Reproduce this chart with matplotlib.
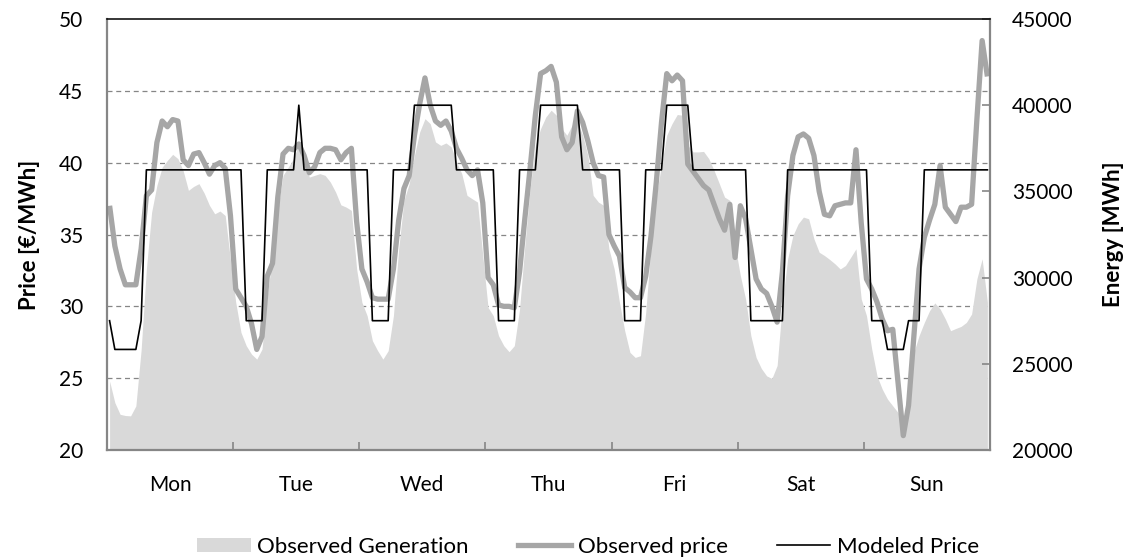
#!/usr/bin/env python3
"""Weekly observed generation, observed price and modeled price."""

import matplotlib
matplotlib.use("Agg")
import matplotlib.pyplot as plt
import numpy as np
from matplotlib.lines import Line2D
from matplotlib.patches import Patch

plt.rcParams["font.family"] = ["Lato", "DejaVu Sans"]

DAYS = ["Mon", "Tue", "Wed", "Thu", "Fri", "Sat", "Sun"]

# Observed price (EUR/MWh), hourly, one row per day
PRICE_OBS = [
    37.0, 34.2, 32.6, 31.5, 31.5, 31.5, 34.0, 37.7, 38.1, 41.4, 42.9, 42.5,
    43.0, 42.9, 40.2, 39.8, 40.6, 40.7, 40.0, 39.2, 39.8, 40.0, 39.6, 36.3,
    31.2, 30.6, 30.0, 28.8, 27.0, 27.9, 32.1, 33.0, 37.6, 40.6, 41.0, 40.9,
    41.3, 40.5, 39.3, 39.7, 40.7, 41.0, 41.0, 40.9, 40.2, 40.7, 41.0, 35.9,
    32.6, 31.7, 30.6, 30.5, 30.5, 30.5, 32.6, 36.0, 38.2, 39.1, 41.9, 44.1,
    45.9, 44.0, 42.9, 42.6, 42.9, 42.2, 41.0, 40.3, 39.5, 39.1, 39.5, 37.2,
    32.0, 31.5, 30.1, 30.0, 30.0, 29.9, 32.4, 36.1, 39.6, 43.3, 46.2, 46.4,
    46.7, 45.6, 41.8, 40.9, 41.4, 43.6, 42.8, 41.5, 40.0, 39.1, 39.0, 35.0,
    34.2, 33.5, 31.3, 31.0, 30.6, 30.6, 32.1, 34.9, 38.6, 42.8, 46.2, 45.7,
    46.1, 45.7, 39.9, 39.4, 38.9, 38.4, 38.1, 37.1, 36.1, 35.3, 37.1, 33.4,
    37.0, 36.1, 34.0, 31.9, 31.2, 30.9, 30.0, 28.9, 32.4, 37.7, 40.5, 41.8,
    42.0, 41.7, 40.5, 38.0, 36.4, 36.3, 37.0, 37.1, 37.2, 37.2, 40.9, 35.8,
    31.9, 31.2, 30.3, 29.1, 28.3, 28.4, 24.7, 21.0, 23.1, 27.9, 32.6, 34.8,
    36.0, 37.1, 39.8, 36.9, 36.4, 35.9, 36.9, 36.9, 37.1, 43.0, 48.5, 46.0,
]

# Modeled price (EUR/MWh), hourly
PRICE_MOD = [
    29.0, 27.0, 27.0, 27.0, 27.0, 27.0, 29.0, 39.5, 39.5, 39.5, 39.5, 39.5,
    39.5, 39.5, 39.5, 39.5, 39.5, 39.5, 39.5, 39.5, 39.5, 39.5, 39.5, 39.5,
    39.5, 39.5, 29.0, 29.0, 29.0, 29.0, 39.5, 39.5, 39.5, 39.5, 39.5, 39.5,
    44.0, 39.5, 39.5, 39.5, 39.5, 39.5, 39.5, 39.5, 39.5, 39.5, 39.5, 39.5,
    39.5, 39.5, 29.0, 29.0, 29.0, 29.0, 39.5, 39.5, 39.5, 39.5, 44.0, 44.0,
    44.0, 44.0, 44.0, 44.0, 44.0, 44.0, 39.5, 39.5, 39.5, 39.5, 39.5, 39.5,
    39.5, 39.5, 29.0, 29.0, 29.0, 29.0, 39.5, 39.5, 39.5, 39.5, 44.0, 44.0,
    44.0, 44.0, 44.0, 44.0, 44.0, 44.0, 39.5, 39.5, 39.5, 39.5, 39.5, 39.5,
    39.5, 39.5, 29.0, 29.0, 29.0, 29.0, 39.5, 39.5, 39.5, 39.5, 44.0, 44.0,
    44.0, 44.0, 44.0, 39.5, 39.5, 39.5, 39.5, 39.5, 39.5, 39.5, 39.5, 39.5,
    39.5, 39.5, 29.0, 29.0, 29.0, 29.0, 29.0, 29.0, 29.0, 39.5, 39.5, 39.5,
    39.5, 39.5, 39.5, 39.5, 39.5, 39.5, 39.5, 39.5, 39.5, 39.5, 39.5, 39.5,
    39.5, 29.0, 29.0, 29.0, 27.0, 27.0, 27.0, 27.0, 29.0, 29.0, 29.0, 39.5,
    39.5, 39.5, 39.5, 39.5, 39.5, 39.5, 39.5, 39.5, 39.5, 39.5, 39.5, 39.5,
]

# Observed generation (MWh), hourly
GENERATION = [
    24000, 22750, 22070, 22000, 21980, 22560, 25800, 30500, 33800, 35350, 36400, 36800,
    37150, 36900, 36200, 35060, 35290, 35450, 34900, 34190, 33700, 33860, 33600, 31000,
    28570, 26820, 26050, 25560, 25270, 25850, 28950, 31280, 33990, 35930, 36410, 36900,
    37770, 36900, 35830, 35930, 36030, 35930, 35540, 34960, 34220, 34090, 33900, 30500,
    28570, 27790, 26340, 25760, 25270, 25760, 27790, 31670, 34480, 35450, 37090, 38450,
    39220, 38930, 37870, 37670, 37810, 37580, 36700, 36030, 34770, 34570, 34380, 31280,
    28270, 27790, 26630, 26050, 25700, 26050, 28180, 31860, 35150, 37670, 38640, 39320,
    39710, 39420, 38640, 38260, 38840, 39030, 38260, 37090, 34770, 34380, 34190, 31670,
    30500, 28570, 26920, 25660, 25370, 25470, 27980, 31860, 34770, 36510, 38260, 38930,
    39460, 39420, 37670, 37290, 37290, 37320, 36900, 36220, 35450, 34670, 34480, 31860,
    30120, 28760, 26630, 25370, 24730, 24300, 24150, 24900, 28500, 31090, 32440, 33120,
    33510, 33410, 32250, 31470, 31280, 31050, 30800, 30500, 30700, 31180, 31670, 28760,
    27790, 25850, 24300, 23530, 22950, 22560, 22170, 21590, 23720, 25660, 26630, 27400,
    28080, 28530, 28180, 27600, 26920, 27050, 27170, 27400, 27890, 29920, 31090, 28570,
]

GEN_COLOR = "#d9d9d9"
OBS_COLOR = "#a6a6a6"
AXIS_GREY = "#868686"
FONT_SIZE = 15


def main() -> None:
    hours = np.arange(len(PRICE_OBS)) + 0.5

    fig = plt.figure(figsize=(11.33, 5.59), dpi=100)
    ax = fig.add_axes([0.0944, 0.195, 0.7794, 0.771])
    ax_e = ax.twinx()
    ax_g = ax.twinx()

    # stacking: grid at the bottom, generation area, price lines on top
    ax_g.set_zorder(0)
    ax_e.set_zorder(1)
    ax.set_zorder(2)
    ax.patch.set_visible(False)

    # ----------------------------
    # Grid layer
    # ----------------------------
    ax_g.set_ylim(20, 50)
    ax_g.set_yticks([25, 30, 35, 40, 45])
    ax_g.yaxis.grid(True, color=AXIS_GREY, linestyle=(0, (4, 3)), linewidth=0.9)
    ax_g.tick_params(right=False, labelright=False, left=False, labelleft=False)
    for s in ax_g.spines.values():
        s.set_visible(False)

    # ----------------------------
    # Generation (right axis)
    # ----------------------------
    ax_e.fill_between(hours, 20000, GENERATION, color=GEN_COLOR, linewidth=0)
    ax_e.set_ylim(20000, 45000)
    ax_e.set_yticks(np.arange(20000, 45001, 5000))
    ax_e.tick_params(axis="y", direction="in", length=6, width=1.2,
                     color=AXIS_GREY, labelsize=FONT_SIZE, pad=16)
    ax_e.set_ylabel("Energy [MWh]", fontsize=16, fontweight="bold", labelpad=22)
    for s in ax_e.spines.values():
        s.set_visible(False)

    # ----------------------------
    # Prices (left axis)
    # ----------------------------
    ax.plot(hours, PRICE_OBS, color=OBS_COLOR, linewidth=3.8,
            solid_joinstyle="round", solid_capstyle="butt")
    ax.plot(hours, PRICE_MOD, color="black", linewidth=1.2)
    ax.set_xlim(0, len(PRICE_OBS))
    ax.set_ylim(20, 50)
    ax.set_yticks(np.arange(20, 51, 5))
    ax.set_ylabel("Price [€/MWh]", fontsize=16, fontweight="bold", labelpad=14)

    ax.set_xticks(np.arange(0, 169, 24))
    ax.set_xticks(np.arange(12, 168, 24), minor=True)
    ax.set_xticklabels([])
    ax.set_xticklabels(DAYS, minor=True)
    ax.tick_params(axis="x", which="major", direction="in", length=6,
                   width=1.2, color=AXIS_GREY)
    ax.tick_params(axis="x", which="minor", length=0, labelsize=FONT_SIZE, pad=18)
    ax.tick_params(axis="y", direction="in", length=0, labelsize=FONT_SIZE, pad=17)

    for side in ("left", "bottom", "right"):
        ax.spines[side].set_color(AXIS_GREY)
        ax.spines[side].set_linewidth(1.6)
    ax.spines["top"].set_color("black")
    ax.spines["top"].set_linewidth(1.1)

    handles = [
        Patch(facecolor=GEN_COLOR, edgecolor="none"),
        Line2D([], [], color=OBS_COLOR, linewidth=3.8),
        Line2D([], [], color="black", linewidth=1.2),
    ]
    labels = ["Observed Generation", "Observed price", "Modeled Price"]
    fig.legend(handles, labels, loc="center", bbox_to_anchor=(0.519, 0.022),
               ncol=3, frameon=False, fontsize=16, handlelength=2.4,
               handleheight=0.6, handletextpad=0.3, columnspacing=2.2)

    fig.savefig("out.png", dpi=100)
    plt.close(fig)


if __name__ == "__main__":
    main()
